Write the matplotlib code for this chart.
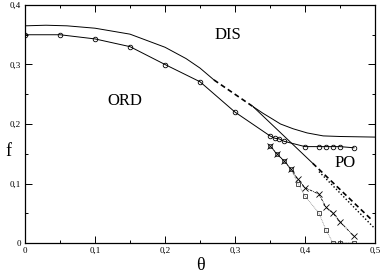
import matplotlib
matplotlib.use("Agg")
import matplotlib.pyplot as plt
from matplotlib.ticker import MultipleLocator, FuncFormatter

plt.rcParams['font.family'] = ['Liberation Serif', 'DejaVu Serif']

# upper boundary (DIS), solid part then dashed part
dis_t = [0.0, 0.03, 0.06, 0.10, 0.15, 0.20, 0.23, 0.25, 0.27]
dis_f = [0.365, 0.366, 0.365, 0.361, 0.351, 0.329, 0.310, 0.294, 0.274]
dis_dash_t = [0.27, 0.326]
dis_dash_f = [0.274, 0.229]
# upper branch after the split (flattening)
up_t = [0.326, 0.34, 0.354, 0.365, 0.383, 0.403, 0.426, 0.45, 0.50]
up_f = [0.229, 0.218, 0.208, 0.200, 0.192, 0.185, 0.180, 0.179, 0.178]
# straight branch after the split
low_t = [0.326, 0.411]
low_f = [0.229, 0.134]
low_dash_t = [0.411, 0.497]
low_dash_f = [0.134, 0.037]
low_dot_t = [0.42, 0.50]
low_dot_f = [0.120, 0.024]

# circles (ORD)
circ_t = [0.0, 0.05, 0.10, 0.15, 0.20, 0.25, 0.30, 0.35, 0.357, 0.363, 0.37,
          0.40, 0.42, 0.43, 0.44, 0.45, 0.47]
circ_f = [0.350, 0.350, 0.343, 0.330, 0.300, 0.271, 0.220, 0.180, 0.176, 0.175, 0.171,
          0.162, 0.162, 0.162, 0.162, 0.162, 0.160]

# crosses
x_t = [0.35, 0.36, 0.37, 0.38, 0.39, 0.40, 0.42, 0.43, 0.44, 0.45, 0.47]
x_f = [0.163, 0.150, 0.138, 0.124, 0.107, 0.093, 0.082, 0.060, 0.050, 0.036, 0.011]

# squares
sq_t = [0.35, 0.36, 0.37, 0.38, 0.39, 0.40, 0.42, 0.43, 0.44, 0.45, 0.47]
sq_f = [0.163, 0.150, 0.138, 0.124, 0.100, 0.079, 0.050, 0.022, 0.0, 0.0, 0.0]

fig = plt.figure(figsize=(3.82, 2.73), dpi=100)
ax = fig.add_axes([25/382, 1-243/273, 350/382, 238/273])

lw = 0.7
ax.plot(dis_t, dis_f, color='black', lw=lw)
ax.plot(dis_dash_t, dis_dash_f, color='black', lw=1.2, dashes=(3, 2))
ax.plot(up_t, up_f, color='black', lw=lw)
ax.plot(low_t, low_f, color='black', lw=lw)
ax.plot(low_dash_t, low_dash_f, color='black', lw=1.2, dashes=(3, 2))
ax.plot(low_dot_t, low_dot_f, color='black', lw=1.0, dashes=(1, 1.5))

ax.plot(sq_t, sq_f, color='#888888', lw=0.6, dashes=(1, 1),
        marker='s', ms=2.6, mfc='none', mec='#333333', mew=0.6)
ax.plot(x_t, x_f, color='black', lw=0.6, dashes=(3, 1, 1, 1),
        marker='x', ms=4, mew=0.6)
ax.plot(circ_t, circ_f, color='black', lw=lw,
        marker='o', ms=3.3, mfc='none', mec='black', mew=0.6)

ax.set_xlim(0, 0.5)
ax.set_ylim(0, 0.4)
ax.xaxis.set_major_locator(MultipleLocator(0.1))
ax.xaxis.set_minor_locator(MultipleLocator(0.05))
ax.yaxis.set_major_locator(MultipleLocator(0.1))
ax.yaxis.set_minor_locator(MultipleLocator(0.05))

fmt = FuncFormatter(lambda v, p: '0' if abs(v) < 1e-9 else ('%.1f' % v).replace('.', ','))
ax.xaxis.set_major_formatter(fmt)
ax.yaxis.set_major_formatter(fmt)

ax.tick_params(which='both', direction='in', top=True, right=True, labelsize=6.5, width=0.7)
ax.tick_params(which='major', length=5, pad=3)
ax.tick_params(which='minor', length=2.5)
for s in ax.spines.values():
    s.set_linewidth(0.9)

ax.text(0.29, 0.35, 'DIS', fontsize=12, ha='center', va='center')
ax.text(0.143, 0.239, 'ORD', fontsize=12, ha='center', va='center')
ax.text(0.457, 0.134, 'PO', fontsize=12, ha='center', va='center')

fig.text(200/382, 1-265/273, 'θ', fontsize=13, ha='center', va='center')
fig.text(8/382, 1-152/273, 'f', fontsize=13, ha='center', va='center')

fig.savefig('out.png', dpi=100)
